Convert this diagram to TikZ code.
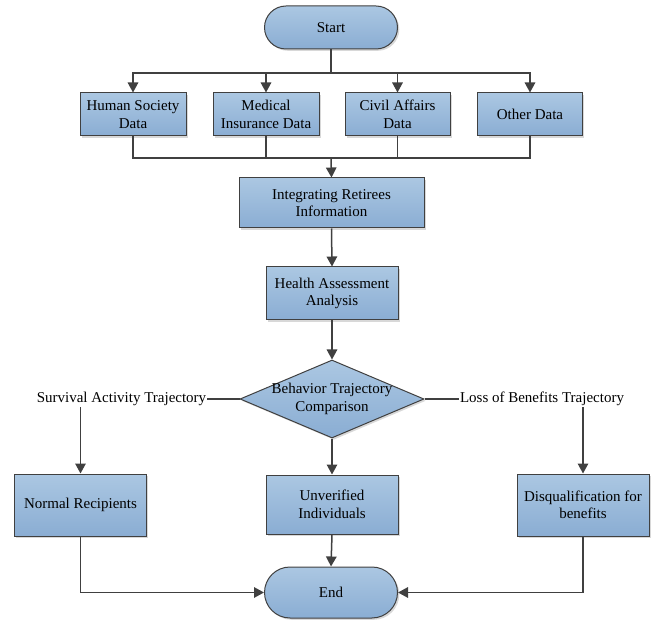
\documentclass[tikz,border=0pt]{standalone}
\usepackage{fontspec}
\setmainfont{Liberation Serif}
\usetikzlibrary{arrows.meta,shapes.misc,shapes.geometric,shadows,calc}
\definecolor{boxtop}{HTML}{ABC7E2}
\definecolor{boxbot}{HTML}{8AADD3}
\definecolor{edgegray}{HTML}{404040}

\begin{document}
\begin{tikzpicture}[x=1pt,y=-1pt,
  every node/.style={font=\rmfamily\fontsize{15}{17.5}\selectfont, align=center},
  blk/.style={draw=edgegray, line width=1pt, top color=boxtop, bottom color=boxbot, inner sep=0pt,
    drop shadow={shadow xshift=1.8pt, shadow yshift=-1.8pt, fill=black!30}},
  proc/.style={blk, rectangle},
  term/.style={blk, rounded rectangle, minimum width=133pt},
  decide/.style={blk, diamond, minimum width=184pt, minimum height=78pt},
  link/.style={draw=edgegray, line width=1.5pt},
  arr/.style={link, -{Triangle[length=10pt,width=10.5pt]}}]

\useasboundingbox (0,0) rectangle (651,620);

%start and the four data sources
\node [term, minimum height=43pt] (start) at (331,27.5) {Start};
\node [proc, minimum width=106pt, minimum height=43pt] (hs) at (133,114.5) {Human Society\\Data};
\node [proc, minimum width=106pt, minimum height=43pt] (mi) at (266,114.5) {Medical\\Insurance Data};
\node [proc, minimum width=105pt, minimum height=43pt] (ca) at (397.5,114.5) {Civil Affairs\\Data};
\node [proc, minimum width=105pt, minimum height=43pt] (od) at (530,114.5) {Other Data};

%middle column
\node [proc, minimum width=185pt, minimum height=50pt] (integ) at (331.5,203) {Integrating Retirees\\Information};
\node [proc, minimum width=132pt, minimum height=53pt] (health) at (332,293.5) {Health Assessment\\Analysis};
\node [decide, label={[align=center]center:Behavior Trajectory\\Comparison}] (cmp) at (332,399) {};

%branch labels
\node [inner sep=1pt] (surv) at (121.5,399) {Survival Activity Trajectory};
\node [inner sep=1pt] (loss) at (542,399) {Loss of Benefits Trajectory};

%outcomes
\node [proc, minimum width=132pt, minimum height=62pt] (normal) at (80.5,505) {Normal Recipients};
\node [proc, minimum width=132pt, minimum height=59pt] (unver) at (332,504.5) {Unverified\\Individuals};
\node [proc, minimum width=132pt, minimum height=62pt] (disq) at (583,505) {Disqualification for\\benefits};
\node [term, minimum height=51pt] (end) at (331,592.5) {End};

%split below start
\coordinate (split) at (331,73);
\draw [link] (start.south) -- (split);
\draw [arr] (split) -| (hs.north);
\draw [arr] (split) -| (mi.north);
\draw [arr] (split) -| (ca.north);
\draw [arr] (split) -| (od.north);

%merge into integration
\coordinate (merge) at (331,158);
\draw [link] (hs.south) |- (merge);
\draw [link] (mi.south) |- (merge);
\draw [link] (ca.south) |- (merge);
\draw [link] (od.south) |- (merge);
\draw [arr] (merge) -- (integ.north);

\draw [arr] (integ.south) -- (health.north);
\draw [arr] (health.south) -- (cmp.north);

%left and right trajectories
\draw [link] (cmp.west) -- (surv.east);
\draw [link] (cmp.east) -- (loss.west);
\draw [arr] (surv.south -| normal.north) -- (normal.north);
\draw [arr] (loss.south -| disq.north) -- (disq.north);
\draw [arr] (cmp.south) -- (unver.north);

%into end
\draw [arr] (unver.south) -- (end.north);
\draw [arr] (normal.south) |- (end.west);
\draw [arr] (disq.south) |- (end.east);

\end{tikzpicture}
\end{document}
